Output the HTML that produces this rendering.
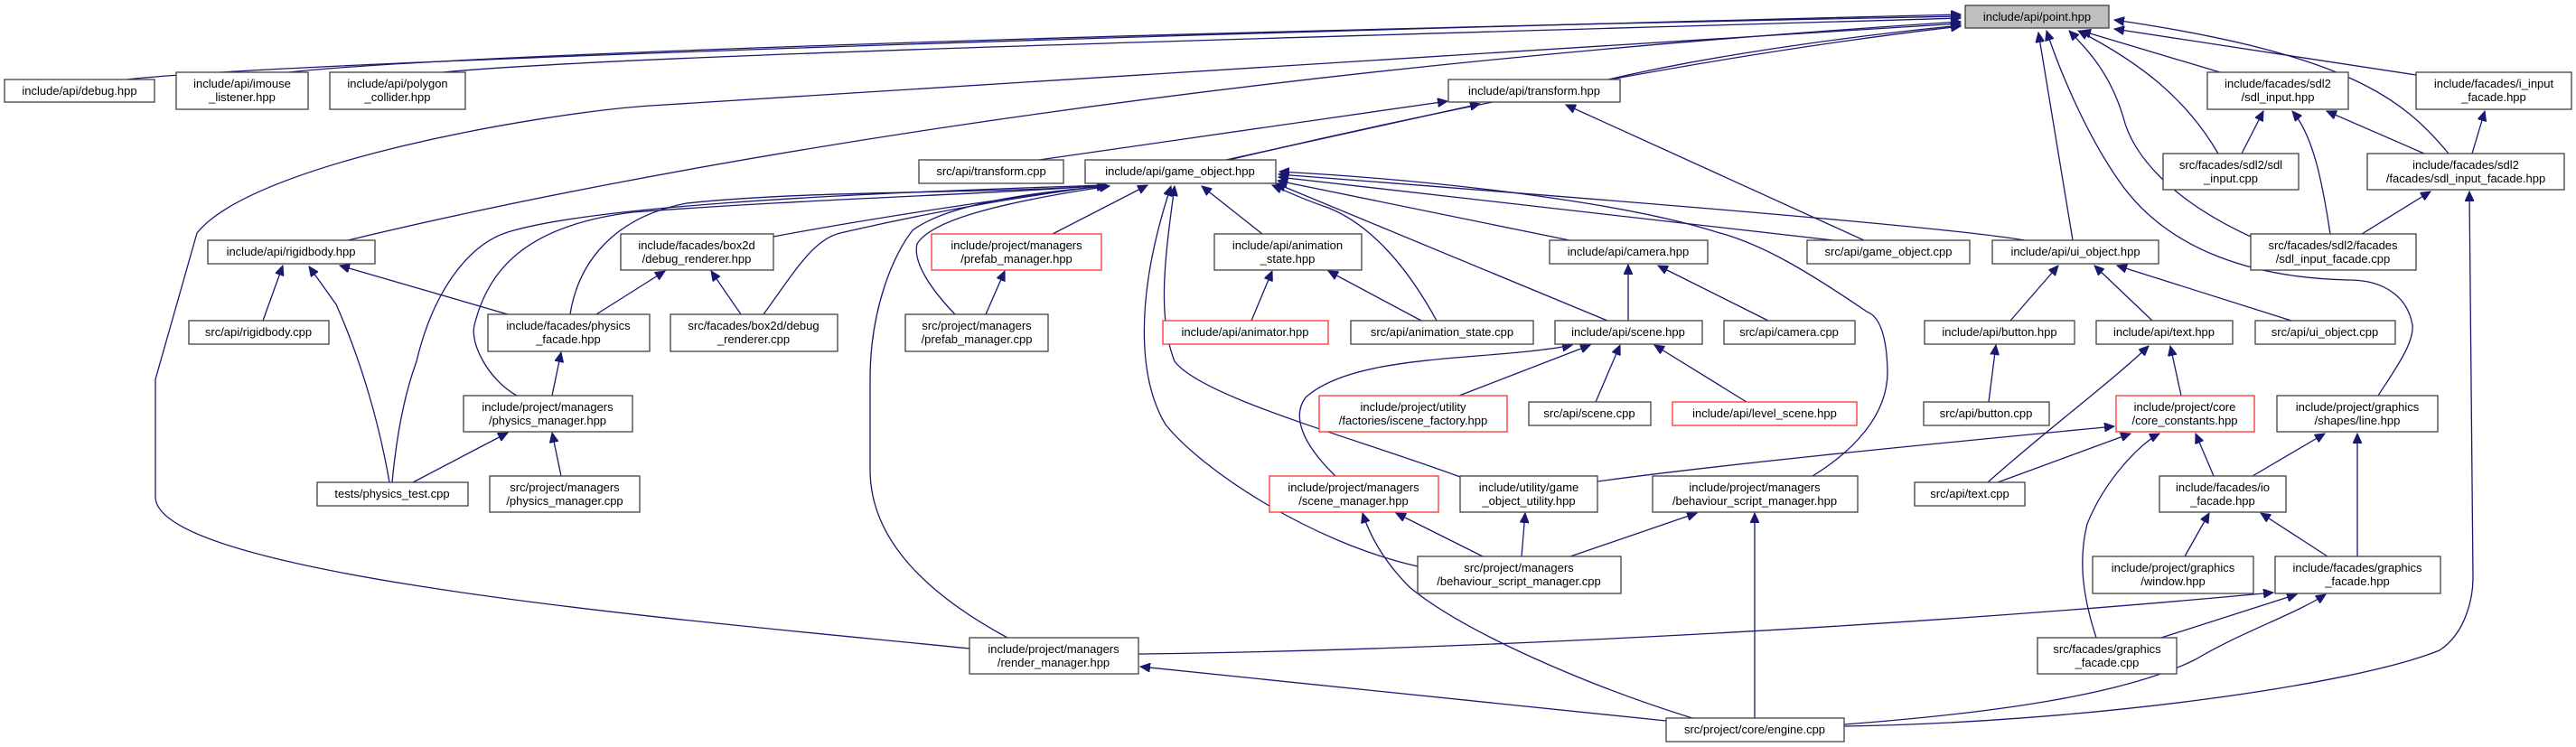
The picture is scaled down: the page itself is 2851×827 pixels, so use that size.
<!DOCTYPE html>
<html><head><meta charset="utf-8"><style>
html,body{margin:0;padding:0;background:#fff;}
svg{display:block;}
text{font-family:"Liberation Sans",sans-serif;font-size:13px;fill:#000;text-anchor:middle;}
.e{fill:none;stroke:#191970;stroke-width:1.3;marker-end:url(#a);}
.n{fill:#fff;stroke:#404040;stroke-width:1.3;}
.r{fill:#fff;stroke:#ff3030;stroke-width:1.3;}
</style></head><body>
<svg width="2851" height="827" viewBox="0 0 2851 827" xmlns="http://www.w3.org/2000/svg">
<defs><marker id="a" markerUnits="userSpaceOnUse" markerWidth="12" markerHeight="10" refX="11" refY="5" orient="auto"><path d="M0,0 L11,5 L0,10 Z" fill="#191970" stroke="#191970"/></marker></defs>
<g>
<path class="e" d="M140,88 C300,70 1200,40 2170,16"/>
<path class="e" d="M320,80 C500,60 1300,35 2170,18"/>
<path class="e" d="M490,80 C700,60 1500,40 2170,20"/>
<path class="e" d="M385,266 C700,190 1300,80 2170,24"/>
<path class="e" d="M1073,718 C800,690 172,640 172,550 L172,420 L218,258 C280,180 600,125 720,117 L2170,26"/>
<path class="e" d="M1780,88 C1900,60 2050,40 2170,28"/>
<path class="e" d="M1360,177 C1600,120 1900,60 2170,29"/>
<path class="e" d="M2294,266 L2256,36"/>
<path class="e" d="M2457,80 L2303,34"/>
<path class="e" d="M2455,170 C2420,110 2370,70 2300,34"/>
<path class="e" d="M2491,262 C2400,220 2360,170 2350,130 C2335,80 2310,55 2290,34"/>
<path class="e" d="M2710,170 C2660,110 2600,60 2340,22"/>
<path class="e" d="M2674,83 L2340,32"/>
<path class="e" d="M2632,438 C2650,410 2672,380 2670,360 C2665,330 2640,310 2600,310 C2500,308 2400,280 2345,200 C2310,150 2280,80 2265,34"/>
<path class="e" d="M2063,266 L1733,116"/>
<path class="e" d="M1357,177 L1638,115"/>
<path class="e" d="M1150,177 L1602,112"/>
<path class="e" d="M631,348 C640,290 680,240 760,225 C900,210 1100,215 1225,205"/>
<path class="e" d="M572,438 C540,420 520,380 525,360 C540,300 580,250 700,235 C900,220 1100,215 1225,205"/>
<path class="e" d="M434,534 C440,470 450,430 461,400 C480,320 520,270 562,257 C650,230 900,215 1225,205"/>
<path class="e" d="M856,262 C1000,235 1150,215 1225,205"/>
<path class="e" d="M845,348 C880,300 900,265 930,258 C1050,230 1150,215 1225,205"/>
<path class="e" d="M1165,259 L1270,205"/>
<path class="e" d="M1057,348 C1030,320 1010,290 1015,270 C1030,245 1100,225 1228,206"/>
<path class="e" d="M1115,706 C1030,660 963,600 963,520 L963,420 C963,340 990,280 1010,255 C1050,225 1150,212 1228,206"/>
<path class="e" d="M1616,528 C1500,485 1330,440 1300,400 C1280,350 1290,280 1300,206"/>
<path class="e" d="M1569,627 C1450,600 1330,520 1290,470 C1260,420 1255,330 1296,206"/>
<path class="e" d="M1397,259 L1330,206"/>
<path class="e" d="M1590,355 C1560,300 1520,250 1470,230 C1440,220 1420,210 1408,205"/>
<path class="e" d="M1779,355 L1412,203"/>
<path class="e" d="M1737,266 L1414,200"/>
<path class="e" d="M2029,266 L1415,196"/>
<path class="e" d="M2241,266 C2150,250 1700,215 1415,193"/>
<path class="e" d="M2006,527 C2050,500 2090,460 2089,410 C2088,370 2080,350 2066,345 C2000,300 1950,270 1900,257 C1800,225 1600,200 1416,190"/>
<path class="e" d="M291,355 L313,294"/>
<path class="e" d="M431,534 C420,470 400,400 372,337 L342,295"/>
<path class="e" d="M562,348 L376,294"/>
<path class="e" d="M660,348 L736,300"/>
<path class="e" d="M820,348 L787,300"/>
<path class="e" d="M611,438 L621,390"/>
<path class="e" d="M457,534 L562,479"/>
<path class="e" d="M621,527 L611,479"/>
<path class="e" d="M1091,348 L1112,300"/>
<path class="e" d="M1385,355 L1408,300"/>
<path class="e" d="M1573,355 L1470,300"/>
<path class="e" d="M1802,355 L1802,293"/>
<path class="e" d="M1957,355 L1835,294"/>
<path class="e" d="M1615,438 L1760,382"/>
<path class="e" d="M1766,445 L1793,382"/>
<path class="e" d="M1933,445 L1831,382"/>
<path class="e" d="M1478,527 C1440,490 1430,460 1445,440 C1500,390 1650,400 1740,382"/>
<path class="e" d="M1641,616 L1545,568"/>
<path class="e" d="M1684,616 L1688,568"/>
<path class="e" d="M1738,616 L1878,568"/>
<path class="e" d="M1873,795 C1760,760 1620,700 1560,650 C1530,620 1515,590 1508,568"/>
<path class="e" d="M1942,795 L1942,568"/>
<path class="e" d="M1844,798 L1262,738"/>
<path class="e" d="M1260,724 C1600,720 2100,695 2516,656"/>
<path class="e" d="M2041,802 C2200,790 2350,770 2430,730 C2480,700 2540,680 2574,658"/>
<path class="e" d="M2041,804 C2300,800 2600,760 2700,720 C2730,700 2737,660 2737,640 L2733,212"/>
<path class="e" d="M2392,706 L2542,658"/>
<path class="e" d="M2320,706 C2305,660 2300,620 2310,580 C2330,530 2370,490 2390,480"/>
<path class="e" d="M2450,527 L2430,480"/>
<path class="e" d="M2493,527 L2573,480"/>
<path class="e" d="M2576,616 L2502,568"/>
<path class="e" d="M2609,616 L2609,480"/>
<path class="e" d="M2418,616 L2445,568"/>
<path class="e" d="M2211,534 L2358,480"/>
<path class="e" d="M2200,534 C2260,480 2340,420 2378,383"/>
<path class="e" d="M2414,438 L2402,383"/>
<path class="e" d="M1768,533 C1900,515 2100,495 2340,472"/>
<path class="e" d="M2201,445 L2209,382"/>
<path class="e" d="M2225,355 L2278,294"/>
<path class="e" d="M2382,355 L2318,294"/>
<path class="e" d="M2536,355 L2343,294"/>
<path class="e" d="M2481,170 L2505,123"/>
<path class="e" d="M2579,259 C2570,200 2560,150 2537,123"/>
<path class="e" d="M2614,259 L2690,212"/>
<path class="e" d="M2683,170 L2575,123"/>
<path class="e" d="M2736,170 L2750,123"/>
</g>
<g>
<rect x="2175" y="6" width="159" height="25" fill="#bfbfbf" stroke="#404040" stroke-width="1.3"/><text x="2254.5" y="23">include/api/point.hpp</text>
<rect class="n" x="5" y="88" width="166" height="25"/><text x="88" y="105">include/api/debug.hpp</text>
<rect class="n" x="195" y="80" width="146" height="41"/><text x="268" y="97">include/api/imouse</text><text x="268" y="112">_listener.hpp</text>
<rect class="n" x="365" y="80" width="150" height="41"/><text x="440" y="97">include/api/polygon</text><text x="440" y="112">_collider.hpp</text>
<rect class="n" x="1603" y="88" width="190" height="25"/><text x="1698" y="105">include/api/transform.hpp</text>
<rect class="n" x="2443" y="80" width="156" height="41"/><text x="2521" y="97">include/facades/sdl2</text><text x="2521" y="112">/sdl_input.hpp</text>
<rect class="n" x="2674" y="80" width="172" height="41"/><text x="2760" y="97">include/facades/i_input</text><text x="2760" y="112">_facade.hpp</text>
<rect class="n" x="1017" y="177" width="160" height="26"/><text x="1097" y="194">src/api/transform.cpp</text>
<rect class="n" x="1201" y="177" width="211" height="26"/><text x="1306" y="194">include/api/game_object.hpp</text>
<rect class="n" x="2394" y="170" width="150" height="40"/><text x="2469" y="187">src/facades/sdl2/sdl</text><text x="2469" y="202">_input.cpp</text>
<rect class="n" x="2620" y="170" width="218" height="40"/><text x="2729" y="187">include/facades/sdl2</text><text x="2729" y="202">/facades/sdl_input_facade.hpp</text>
<rect class="n" x="230" y="266" width="185" height="26"/><text x="322" y="283">include/api/rigidbody.hpp</text>
<rect class="n" x="687" y="259" width="169" height="40"/><text x="771" y="276">include/facades/box2d</text><text x="771" y="291">/debug_renderer.hpp</text>
<rect class="r" x="1031" y="259" width="188" height="40"/><text x="1125" y="276">include/project/managers</text><text x="1125" y="291">/prefab_manager.hpp</text>
<rect class="n" x="1344" y="259" width="163" height="40"/><text x="1425" y="276">include/api/animation</text><text x="1425" y="291">_state.hpp</text>
<rect class="n" x="1715" y="266" width="175" height="26"/><text x="1802" y="283">include/api/camera.hpp</text>
<rect class="n" x="2000" y="266" width="180" height="26"/><text x="2090" y="283">src/api/game_object.cpp</text>
<rect class="n" x="2205" y="266" width="184" height="26"/><text x="2297" y="283">include/api/ui_object.hpp</text>
<rect class="n" x="2491" y="259" width="183" height="40"/><text x="2582" y="276">src/facades/sdl2/facades</text><text x="2582" y="291">/sdl_input_facade.cpp</text>
<rect class="n" x="209" y="355" width="155" height="26"/><text x="286" y="372">src/api/rigidbody.cpp</text>
<rect class="n" x="540" y="348" width="179" height="41"/><text x="629" y="365">include/facades/physics</text><text x="629" y="380">_facade.hpp</text>
<rect class="n" x="742" y="348" width="185" height="41"/><text x="834" y="365">src/facades/box2d/debug</text><text x="834" y="380">_renderer.cpp</text>
<rect class="n" x="1002" y="348" width="158" height="41"/><text x="1081" y="365">src/project/managers</text><text x="1081" y="380">/prefab_manager.cpp</text>
<rect class="r" x="1287" y="355" width="183" height="26"/><text x="1378" y="372">include/api/animator.hpp</text>
<rect class="n" x="1495" y="355" width="202" height="26"/><text x="1596" y="372">src/api/animation_state.cpp</text>
<rect class="n" x="1721" y="355" width="163" height="26"/><text x="1802" y="372">include/api/scene.hpp</text>
<rect class="n" x="1908" y="355" width="145" height="26"/><text x="1980" y="372">src/api/camera.cpp</text>
<rect class="n" x="2130" y="355" width="166" height="26"/><text x="2213" y="372">include/api/button.hpp</text>
<rect class="n" x="2320" y="355" width="151" height="26"/><text x="2395" y="372">include/api/text.hpp</text>
<rect class="n" x="2496" y="355" width="155" height="26"/><text x="2573" y="372">src/api/ui_object.cpp</text>
<rect class="n" x="2520" y="438" width="178" height="40"/><text x="2609" y="455">include/project/graphics</text><text x="2609" y="470">/shapes/line.hpp</text>
<rect class="n" x="513" y="438" width="187" height="40"/><text x="606" y="455">include/project/managers</text><text x="606" y="470">/physics_manager.hpp</text>
<rect class="r" x="1460" y="438" width="208" height="40"/><text x="1564" y="455">include/project/utility</text><text x="1564" y="470">/factories/iscene_factory.hpp</text>
<rect class="n" x="1692" y="445" width="135" height="26"/><text x="1759" y="462">src/api/scene.cpp</text>
<rect class="r" x="1851" y="445" width="204" height="26"/><text x="1953" y="462">include/api/level_scene.hpp</text>
<rect class="n" x="2129" y="445" width="139" height="26"/><text x="2198" y="462">src/api/button.cpp</text>
<rect class="r" x="2342" y="438" width="153" height="40"/><text x="2418" y="455">include/project/core</text><text x="2418" y="470">/core_constants.hpp</text>
<rect class="n" x="351" y="534" width="167" height="26"/><text x="434" y="551">tests/physics_test.cpp</text>
<rect class="n" x="542" y="527" width="166" height="40"/><text x="625" y="544">src/project/managers</text><text x="625" y="559">/physics_manager.cpp</text>
<rect class="r" x="1405" y="527" width="187" height="40"/><text x="1498" y="544">include/project/managers</text><text x="1498" y="559">/scene_manager.hpp</text>
<rect class="n" x="1616" y="527" width="152" height="40"/><text x="1692" y="544">include/utility/game</text><text x="1692" y="559">_object_utility.hpp</text>
<rect class="n" x="1829" y="527" width="227" height="40"/><text x="1942" y="544">include/project/managers</text><text x="1942" y="559">/behaviour_script_manager.hpp</text>
<rect class="n" x="2119" y="534" width="122" height="26"/><text x="2180" y="551">src/api/text.cpp</text>
<rect class="n" x="2390" y="527" width="140" height="40"/><text x="2460" y="544">include/facades/io</text><text x="2460" y="559">_facade.hpp</text>
<rect class="n" x="1569" y="616" width="225" height="41"/><text x="1681" y="633">src/project/managers</text><text x="1681" y="648">/behaviour_script_manager.cpp</text>
<rect class="n" x="2316" y="616" width="178" height="41"/><text x="2405" y="633">include/project/graphics</text><text x="2405" y="648">/window.hpp</text>
<rect class="n" x="2518" y="616" width="183" height="41"/><text x="2609" y="633">include/facades/graphics</text><text x="2609" y="648">_facade.hpp</text>
<rect class="n" x="1073" y="706" width="187" height="40"/><text x="1166" y="723">include/project/managers</text><text x="1166" y="738">/render_manager.hpp</text>
<rect class="n" x="2255" y="706" width="154" height="40"/><text x="2332" y="723">src/facades/graphics</text><text x="2332" y="738">_facade.cpp</text>
<rect class="n" x="1844" y="795" width="197" height="26"/><text x="1942" y="812">src/project/core/engine.cpp</text>
</g>
</svg>
</body></html>
